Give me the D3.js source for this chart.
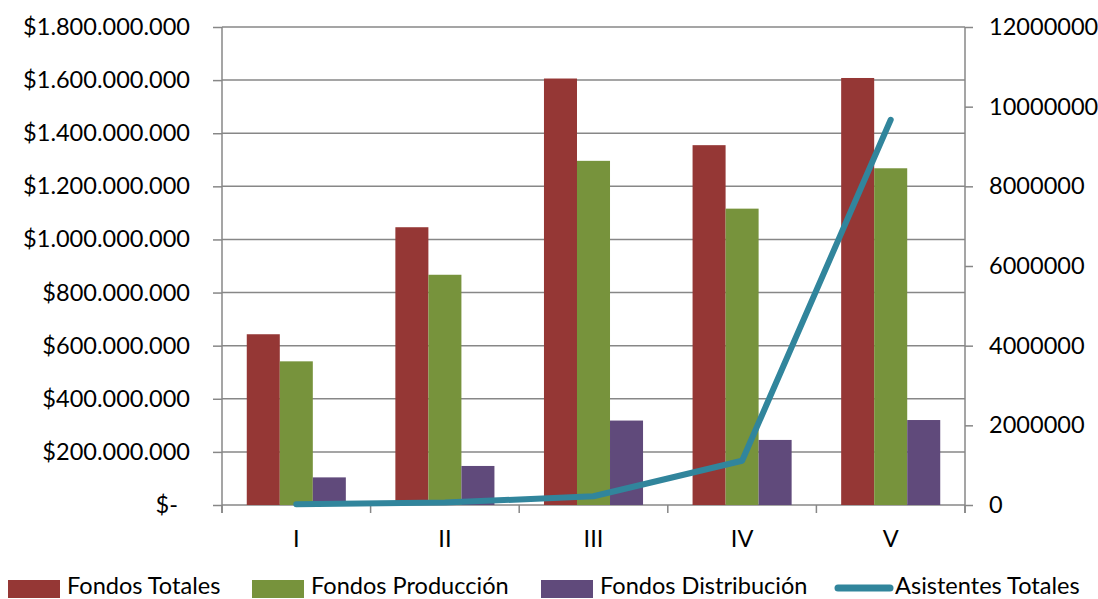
<!DOCTYPE html>
<html>
<head>
<meta charset="utf-8">
<script src="https://cdn.jsdelivr.net/npm/d3@7"></script>
<style>
  html, body { margin: 0; padding: 0; background: #fff; }
  svg { display: block; }
  text { font-family: Lato, "Open Sans", sans-serif; fill: #000; }
</style>
</head>
<body>
<svg id="chart" width="1098" height="599"></svg>
<script>
// ---- data ----
const categories = ["I", "II", "III", "IV", "V"];
const seriesNames = ["Fondos Totales", "Fondos Producción", "Fondos Distribución"];
const fondosTotales = [643000000, 1046000000, 1606000000, 1355000000, 1608000000];
const fondosProduccion = [541000000, 867000000, 1296000000, 1116000000, 1268000000];
const fondosDistribucion = [104000000, 147000000, 318000000, 245000000, 320000000];
const lineName = "Asistentes Totales";
const asistentesTotales = [18000, 60000, 220000, 1110000, 9670000];
const leftTicks = [0, 200000000, 400000000, 600000000, 800000000, 1000000000, 1200000000, 1400000000, 1600000000, 1800000000];
const rightTicks = [0, 2000000, 4000000, 6000000, 8000000, 10000000, 12000000];

// ---- styles / layout ----
const barColors = ["#953735", "#77933C", "#604A7B"];
const lineColor = "#31859C";
const gridColor = "#878787";
const plot = { left: 222, right: 965, top: 27, bottom: 505 };
const legendX = [8, 252, 541, 835];
const legendBase = 594;

const svg = d3.select("#chart");

// font size fitted to reference label width
const probe = svg.append("text").attr("font-size", 100).text("$1.800.000.000");
const pw = probe.node().getComputedTextLength();
probe.remove();
const fs = Math.min(26, 100 * 167 / pw);

const x0 = d3.scaleBand().domain(categories).range([plot.left, plot.right])
  .paddingInner(1/3).paddingOuter(1/6);
const step = x0.step();
const x1 = d3.scaleBand().domain(seriesNames).range([0, x0.bandwidth()]);
const yL = d3.scaleLinear().domain([0, 1800000000]).range([plot.bottom, plot.top]);
const yR = d3.scaleLinear().domain([0, 12000000]).range([plot.bottom, plot.top]);

const loc = d3.formatLocale({ decimal: ",", thousands: ".", grouping: [3], currency: ["$", ""] });
const fmtL = loc.format("$,.0f");

// gridlines
svg.append("g").selectAll("line").data(leftTicks.filter(d => d > 0)).join("line")
  .attr("x1", plot.left).attr("x2", plot.right)
  .attr("y1", d => yL(d)).attr("y2", d => yL(d))
  .attr("stroke", gridColor).attr("stroke-width", 1.5);

// left axis
const gL = svg.append("g").attr("transform", `translate(${plot.left},0)`)
  .call(d3.axisLeft(yL).tickValues(leftTicks).tickSize(9).tickPadding(23)
    .tickFormat(d => d === 0 ? "$-" : fmtL(d)));
gL.select(".domain").remove();
gL.append("line").attr("x1", 0).attr("x2", 0).attr("y1", plot.top).attr("y2", plot.bottom + 8)
  .attr("stroke", gridColor).attr("stroke-width", 1.5);
gL.selectAll(".tick line").attr("stroke", gridColor).attr("stroke-width", 1.5);
gL.selectAll(".tick text").attr("font-size", fs).attr("font-family", "Lato, sans-serif").attr("fill", "#000")
  .attr("dx", d => d === 0 ? -12 : 0);

// right axis
const gR = svg.append("g").attr("transform", `translate(${plot.right},0)`)
  .call(d3.axisRight(yR).tickValues(rightTicks).tickSize(8).tickPadding(16).tickFormat(d3.format("d")));
gR.select(".domain").remove();
gR.append("line").attr("x1", 0).attr("x2", 0).attr("y1", plot.top).attr("y2", plot.bottom + 8)
  .attr("stroke", gridColor).attr("stroke-width", 1.5);
gR.selectAll(".tick line").attr("stroke", gridColor).attr("stroke-width", 1.5);
gR.selectAll(".tick text").attr("font-size", fs).attr("font-family", "Lato, sans-serif").attr("fill", "#000");

// bottom axis
const gB = svg.append("g").attr("transform", `translate(0,${plot.bottom})`);
gB.append("line").attr("x1", plot.left).attr("x2", plot.right).attr("y1", 0).attr("y2", 0)
  .attr("stroke", gridColor).attr("stroke-width", 1.5);
const bounds = categories.map(c => x0(c) - step / 6).concat([plot.right]);
gB.selectAll("line.tk").data(bounds).join("line").attr("class", "tk")
  .attr("x1", d => d).attr("x2", d => d).attr("y1", 0).attr("y2", 8)
  .attr("stroke", gridColor).attr("stroke-width", 1.5);
gB.selectAll("text").data(categories).join("text")
  .attr("x", d => x0(d) + x0.bandwidth() / 2).attr("y", 42)
  .attr("text-anchor", "middle").attr("font-size", fs).text(d => d);

// bars
const barData = [fondosTotales, fondosProduccion, fondosDistribucion];
const groups = svg.append("g").selectAll("g").data(categories).join("g")
  .attr("transform", d => `translate(${x0(d)},0)`);
groups.selectAll("rect").data((c, i) => seriesNames.map((s, k) => ({ s, k, v: barData[k][i] }))).join("rect")
  .attr("x", d => x1(d.s)).attr("width", x1.bandwidth())
  .attr("y", d => yL(d.v)).attr("height", d => plot.bottom - yL(d.v))
  .attr("fill", d => barColors[d.k]);

// line
const line = d3.line().x((d, i) => x0(categories[i]) + x0.bandwidth() / 2).y(d => yR(d));
svg.append("path").datum(asistentesTotales).attr("d", line)
  .attr("fill", "none").attr("stroke", lineColor).attr("stroke-width", 6)
  .attr("stroke-linecap", "round").attr("stroke-linejoin", "round");

// legend
const legendItems = seriesNames.map((s, k) => ({ name: s, color: barColors[k], type: "rect" }))
  .concat([{ name: lineName, color: lineColor, type: "line" }]);
const lg = svg.append("g").selectAll("g").data(legendItems).join("g")
  .attr("transform", (d, i) => `translate(${legendX[i]},0)`);
lg.filter(d => d.type === "rect").append("rect")
  .attr("x", 0).attr("y", legendBase - 14).attr("width", 52).attr("height", 18).attr("fill", d => d.color);
lg.filter(d => d.type === "line").append("line")
  .attr("x1", 3).attr("x2", 55).attr("y1", legendBase - 6).attr("y2", legendBase - 6)
  .attr("stroke", d => d.color).attr("stroke-width", 7).attr("stroke-linecap", "round");
lg.append("text").attr("x", d => d.type === "line" ? 60 : 59).attr("y", legendBase)
  .attr("font-size", fs).text(d => d.name);
</script>
</body>
</html>
